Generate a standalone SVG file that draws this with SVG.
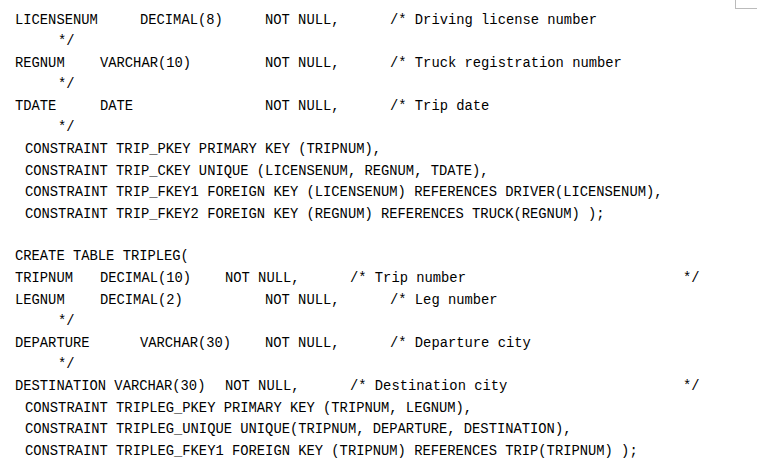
<svg xmlns="http://www.w3.org/2000/svg" width="757" height="471" viewBox="0 0 757 471">
<style>text{font-family:"Liberation Mono","DejaVu Sans Mono",monospace;font-size:13.8px;fill:#000;white-space:pre}</style>
<rect width="757" height="471" fill="#fff"/>
<line x1="735.5" y1="0" x2="735.5" y2="8" stroke="#bbb"/>
<line x1="735" y1="8.5" x2="757" y2="8.5" stroke="#bbb"/>
<g id="code">
<text x="15" y="24">LICENSENUM</text><text x="140" y="24">DECIMAL(8)</text><text x="265" y="24">NOT NULL,</text><text x="390" y="24">/* Driving license number</text>
<text x="58" y="45">*/</text>
<text x="15" y="67">REGNUM</text><text x="100" y="67">VARCHAR(10)</text><text x="265" y="67">NOT NULL,</text><text x="390" y="67">/* Truck registration number</text>
<text x="58" y="88">*/</text>
<text x="15" y="110">TDATE</text><text x="100" y="110">DATE</text><text x="265" y="110">NOT NULL,</text><text x="390" y="110">/* Trip date</text>
<text x="58" y="131">*/</text>
<text x="25" y="153">CONSTRAINT TRIP_PKEY PRIMARY KEY (TRIPNUM),</text>
<text x="25" y="175">CONSTRAINT TRIP_CKEY UNIQUE (LICENSENUM, REGNUM, TDATE),</text>
<text x="25" y="196">CONSTRAINT TRIP_FKEY1 FOREIGN KEY (LICENSENUM) REFERENCES DRIVER(LICENSENUM),</text>
<text x="25" y="218">CONSTRAINT TRIP_FKEY2 FOREIGN KEY (REGNUM) REFERENCES TRUCK(REGNUM) );</text>
<text x="15" y="260">CREATE TABLE TRIPLEG(</text>
<text x="15" y="282">TRIPNUM</text><text x="100" y="282">DECIMAL(10)</text><text x="225" y="282">NOT NULL,</text><text x="350" y="282">/* Trip number</text><text x="683" y="282">*/</text>
<text x="15" y="304">LEGNUM</text><text x="100" y="304">DECIMAL(2)</text><text x="265" y="304">NOT NULL,</text><text x="390" y="304">/* Leg number</text>
<text x="58" y="325">*/</text>
<text x="15" y="347">DEPARTURE</text><text x="140" y="347">VARCHAR(30)</text><text x="265" y="347">NOT NULL,</text><text x="390" y="347">/* Departure city</text>
<text x="58" y="368">*/</text>
<text x="15" y="390">DESTINATION VARCHAR(30)</text><text x="225" y="390">NOT NULL,</text><text x="350" y="390">/* Destination city</text><text x="683" y="390">*/</text>
<text x="25" y="412">CONSTRAINT TRIPLEG_PKEY PRIMARY KEY (TRIPNUM, LEGNUM),</text>
<text x="25" y="433">CONSTRAINT TRIPLEG_UNIQUE UNIQUE(TRIPNUM, DEPARTURE, DESTINATION),</text>
<text x="25" y="455">CONSTRAINT TRIPLEG_FKEY1 FOREIGN KEY (TRIPNUM) REFERENCES TRIP(TRIPNUM) );</text>
</g>
</svg>
